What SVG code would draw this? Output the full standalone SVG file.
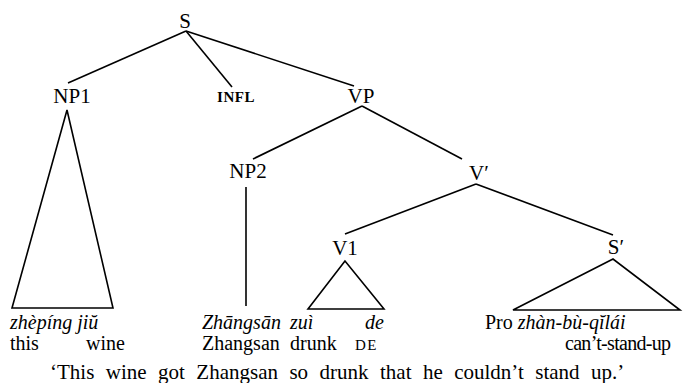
<svg xmlns="http://www.w3.org/2000/svg" width="688" height="383" viewBox="0 0 688 383">
<style>
text{font-family:"Liberation Serif","Times New Roman",serif;fill:#000;font-size:20px}
.lab{text-anchor:middle;font-size:21px}
.it{font-style:italic}
.sc{font-size:15px;letter-spacing:1.5px}
line,polygon{stroke:#000;stroke-width:1.6;fill:none}
</style>
<rect width="688" height="383" fill="#fff"/>
<g id="connectors">
<line x1="186" y1="31" x2="68" y2="83"/>
<line x1="186" y1="31" x2="232" y2="87"/>
<line x1="186" y1="31" x2="354" y2="86"/>
<line x1="362" y1="106" x2="253" y2="159"/>
<line x1="362" y1="106" x2="462" y2="159"/>
<line x1="476" y1="184" x2="345" y2="234"/>
<line x1="476" y1="184" x2="613" y2="235"/>
<line x1="246" y1="187" x2="246" y2="306"/>
</g>
<g id="S"><text class="lab" x="185" y="28">S</text></g>
<g id="NP1"><text class="lab" x="72" y="103">NP1</text>
<polygon points="67,110 12,308 113,308"/></g>
<g id="INFL"><text class="lab" x="236" y="102" style="font-size:15px;font-weight:bold;letter-spacing:0.5px">INFL</text></g>
<g id="VP"><text class="lab" x="361" y="103">VP</text></g>
<g id="NP2"><text class="lab" x="248" y="178">NP2</text></g>
<g id="Vbar"><text class="lab" x="479" y="180">V′</text></g>
<g id="V1"><text class="lab" x="345" y="255">V1</text>
<polygon points="345,261 308,309 384,309"/></g>
<g id="Sbar"><text class="lab" x="616" y="254">S′</text>
<polygon points="613,259 513,310 680,310"/></g>
<g id="words">
<text class="it" x="10" y="329">zhèpíng jiŭ</text>
<text x="10" y="350">this</text>
<text x="86" y="350">wine</text>
<text class="it" x="202" y="329">Zhāngsān</text>
<text x="202" y="350">Zhangsan</text>
<text class="it" x="290" y="329">zuì</text>
<text x="290" y="350">drunk</text>
<text class="it" x="365" y="329">de</text>
<text class="sc" x="355" y="350">DE</text>
<text x="485" y="329">Pro <tspan class="it">zhàn-bù-qĭlái</tspan></text>
<text x="565" y="350" style="letter-spacing:-0.7px">can’t-stand-up</text>
<text x="50" y="379" style="font-size:21px;word-spacing:6.2px">‘This wine got Zhangsan so drunk that he couldn’t stand up.’</text>
</g>
</svg>
